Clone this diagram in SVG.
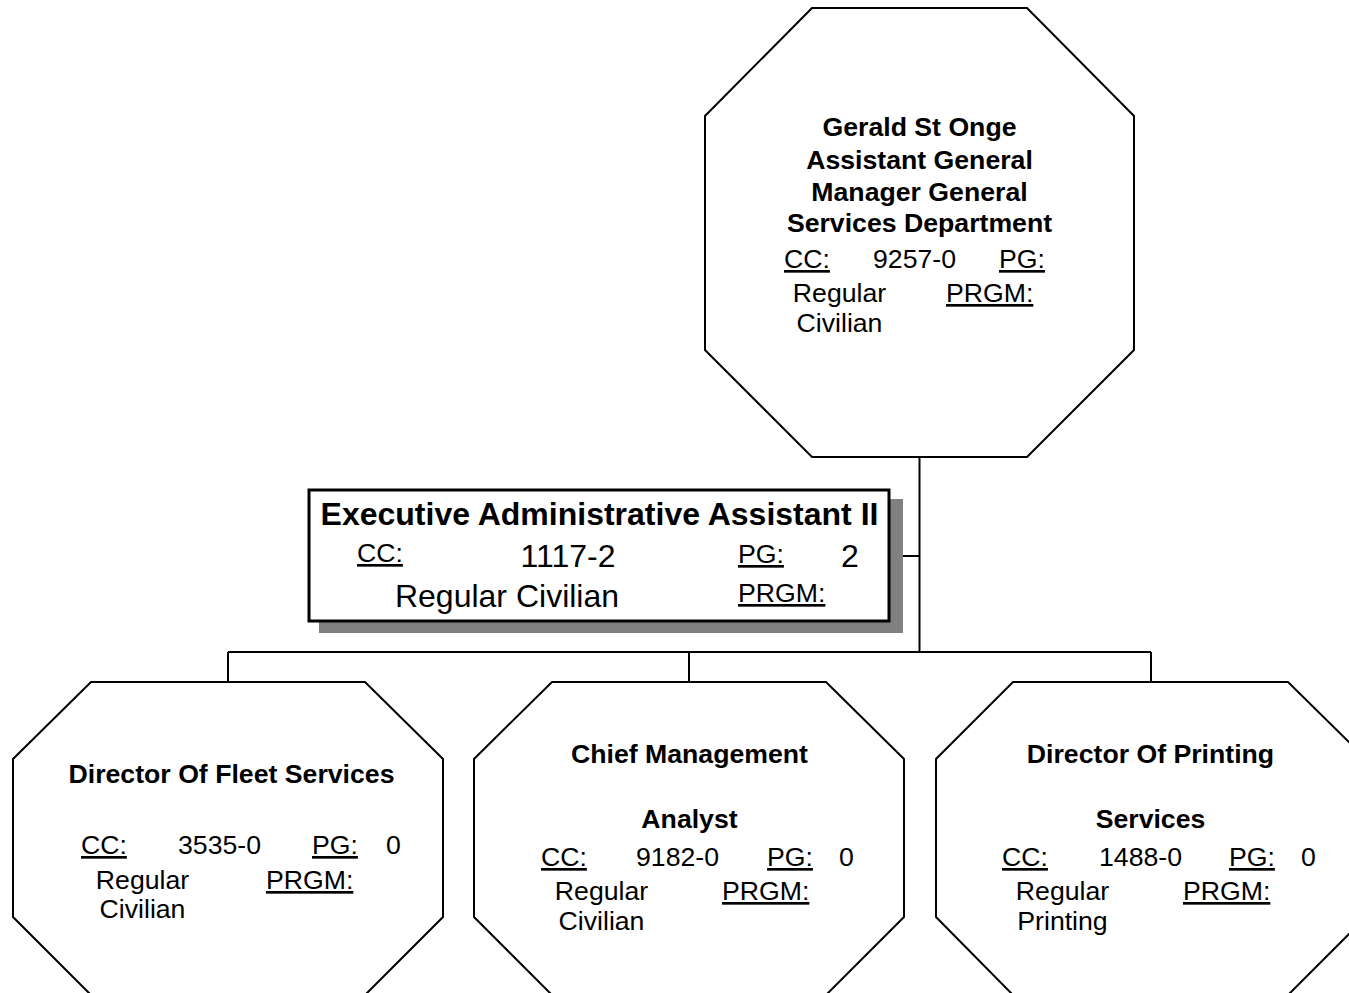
<svg xmlns="http://www.w3.org/2000/svg" width="1349" height="993" viewBox="0 0 1349 993">
  <style>
    text { font-family: "Liberation Sans", Arial, sans-serif; fill: #000; }
    .ttl { font-size: 26.67px; font-weight: bold; text-anchor: middle; }
    .lbl { font-size: 26.67px; text-decoration: underline; }
    .val { font-size: 26.67px; }
    .mid { text-anchor: middle; }
    .oct { fill: #fff; stroke: #000; stroke-width: 2; }
    .wire { stroke: #000; stroke-width: 2; fill: none; }
    .xtl { font-size: 32px; font-weight: bold; text-anchor: middle; }
    .xval { font-size: 32px; }
  </style>
  <rect width="1349" height="993" fill="#fff"/>

  <!-- reporting lines -->
  <g id="connectors">
    <path class="wire" d="M919.5 457 V652"/>
    <path class="wire" d="M889 556 H919.5"/>
    <path class="wire" d="M228 652 H1151"/>
    <path class="wire" d="M228 652 V682"/>
    <path class="wire" d="M689 652 V682"/>
    <path class="wire" d="M1151 652 V682"/>
  </g>

  <!-- head of department -->
  <g id="node-st-onge">
    <polygon class="oct" points="812,8 1027,8 1134,116 1134,350 1027,457 812,457 705,350 705,116"/>
    <text class="ttl" x="919.5" y="136">Gerald St Onge</text>
    <text class="ttl" x="919.5" y="169">Assistant General</text>
    <text class="ttl" x="919.5" y="201">Manager General</text>
    <text class="ttl" x="919.5" y="232">Services Department</text>
    <text class="lbl" x="784" y="268">CC:</text>
    <text class="val" x="873" y="268">9257-0</text>
    <text class="lbl" x="999" y="268">PG:</text>
    <text class="val mid" x="839.5" y="302">Regular</text>
    <text class="val mid" x="839.5" y="332">Civilian</text>
    <text class="lbl" x="946" y="302">PRGM:</text>
  </g>

  <!-- staff assistant -->
  <g id="node-exec-assistant">
    <rect x="319" y="499" width="584" height="134" fill="#808080"/>
    <rect x="309" y="490" width="580" height="131" fill="#fff" stroke="#000" stroke-width="3"/>
    <text class="xtl" x="599.5" y="525">Executive Administrative Assistant II</text>
    <text class="lbl" x="357" y="562">CC:</text>
    <text class="xval mid" x="568" y="567">1117-2</text>
    <text class="lbl" x="738" y="563">PG:</text>
    <text class="xval" x="841" y="567">2</text>
    <text class="xval mid" x="507" y="607">Regular Civilian</text>
    <text class="lbl" x="738" y="602">PRGM:</text>
  </g>

  <!-- direct reports -->
  <g id="node-fleet">
    <polygon class="oct" points="91,682 365,682 443,759 443,917 365,995 91,995 13,917 13,759"/>
    <text class="ttl" x="231.5" y="783">Director Of Fleet Services</text>
    <text class="lbl" x="81" y="854">CC:</text>
    <text class="val" x="178" y="854">3535-0</text>
    <text class="lbl" x="312" y="854">PG:</text>
    <text class="val" x="386" y="854">0</text>
    <text class="val mid" x="142.5" y="889">Regular</text>
    <text class="val mid" x="142.5" y="918">Civilian</text>
    <text class="lbl" x="266" y="889">PRGM:</text>
  </g>

  <g id="node-management">
    <polygon class="oct" points="552,682 826,682 904,759 904,917 826,995 552,995 474,917 474,759"/>
    <text class="ttl" x="689.5" y="763">Chief Management</text>
    <text class="ttl" x="689.5" y="828">Analyst</text>
    <text class="lbl" x="541" y="866">CC:</text>
    <text class="val" x="636" y="866">9182-0</text>
    <text class="lbl" x="767" y="866">PG:</text>
    <text class="val" x="839" y="866">0</text>
    <text class="val mid" x="601.5" y="900">Regular</text>
    <text class="val mid" x="601.5" y="930">Civilian</text>
    <text class="lbl" x="722" y="900">PRGM:</text>
  </g>

  <g id="node-printing">
    <polygon class="oct" points="1013,682 1288,682 1366,759 1366,917 1288,995 1013,995 936,917 936,759"/>
    <text class="ttl" x="1150.5" y="763">Director Of Printing</text>
    <text class="ttl" x="1150.5" y="828">Services</text>
    <text class="lbl" x="1002" y="866">CC:</text>
    <text class="val" x="1099" y="866">1488-0</text>
    <text class="lbl" x="1229" y="866">PG:</text>
    <text class="val" x="1301" y="866">0</text>
    <text class="val mid" x="1062.5" y="900">Regular</text>
    <text class="val mid" x="1062.5" y="930">Printing</text>
    <text class="lbl" x="1183" y="900">PRGM:</text>
  </g>
</svg>
